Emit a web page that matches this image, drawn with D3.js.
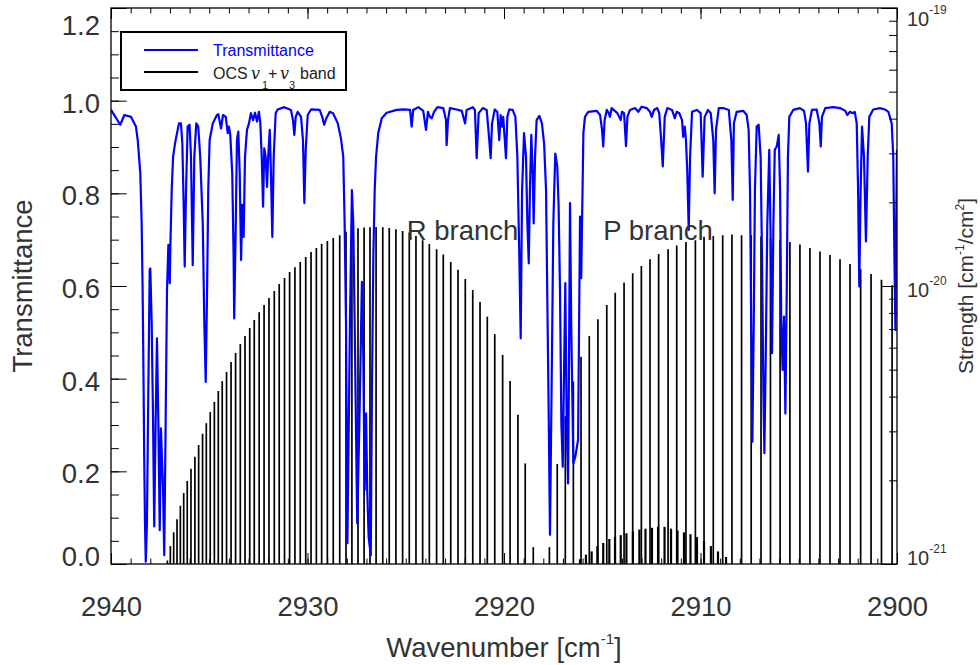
<!DOCTYPE html>
<html>
<head>
<meta charset="utf-8">
<script src="https://cdn.jsdelivr.net/npm/d3@7"></script>
<style>
body{margin:0;background:#fff;}
text{font-family:"Liberation Sans",Arial,Helvetica,sans-serif;fill:#333;}
</style>
</head>
<body>
<div class="box"></div>
<script>
// transmittance spectrum [wavenumber, transmittance]
const transmittance=[
[2940.00,0.980],[2939.53,0.948],[2939.32,0.969],[2938.98,0.965],[2938.73,0.944],[2938.64,0.915],[2938.51,0.844],[2938.44,0.736],[2938.39,0.591],[2938.34,0.376],
[2938.31,0.232],[2938.27,0.088],[2938.23,0.005],[2938.17,0.088],[2938.10,0.376],[2938.03,0.635],[2938.00,0.638],[2937.93,0.520],[2937.86,0.311],[2937.80,0.081],
[2937.73,0.304],[2937.66,0.487],[2937.59,0.304],[2937.52,0.073],[2937.46,0.293],[2937.35,0.160],[2937.29,0.019],[2937.22,0.304],[2937.15,0.591],[2937.08,0.689],
[2937.01,0.606],[2936.98,0.685],[2936.91,0.807],[2936.84,0.879],[2936.74,0.908],[2936.64,0.930],[2936.54,0.951],[2936.44,0.951],[2936.37,0.908],[2936.30,0.771],
[2936.25,0.642],[2936.18,0.807],[2936.10,0.944],[2936.00,0.948],[2935.93,0.879],[2935.84,0.645],[2935.76,0.879],[2935.66,0.951],[2935.56,0.944],[2935.46,0.879],
[2935.33,0.735],[2935.25,0.520],[2935.18,0.393],[2935.11,0.591],[2935.05,0.807],[2934.98,0.915],[2934.82,0.951],[2934.61,0.969],[2934.54,0.971],[2934.40,0.940],
[2934.30,0.969],[2934.16,0.965],[2934.06,0.930],[2934.00,0.944],[2933.93,0.926],[2933.83,0.843],[2933.76,0.663],[2933.73,0.530],[2933.65,0.735],[2933.59,0.915],
[2933.52,0.933],[2933.45,0.843],[2933.38,0.656],[2933.32,0.775],[2933.25,0.706],[2933.18,0.879],[2933.08,0.937],[2932.98,0.951],[2932.88,0.973],[2932.77,0.958],
[2932.67,0.974],[2932.57,0.955],[2932.47,0.976],[2932.40,0.951],[2932.33,0.879],[2932.26,0.771],[2932.20,0.897],[2932.13,0.879],[2932.06,0.814],[2932.00,0.879],
[2931.92,0.937],[2931.86,0.843],[2931.79,0.706],[2931.72,0.879],[2931.62,0.973],[2931.52,0.981],[2931.18,0.986],[2930.84,0.980],[2930.74,0.958],[2930.67,0.926],
[2930.60,0.965],[2930.50,0.976],[2930.33,0.965],[2930.23,0.915],[2930.16,0.779],[2930.09,0.894],[2929.99,0.969],[2929.82,0.981],[2929.38,0.980],[2929.25,0.965],
[2929.15,0.948],[2929.04,0.962],[2928.87,0.976],[2928.70,0.973],[2928.46,0.951],[2928.30,0.919],[2928.18,0.879],[2928.11,0.735],[2928.04,0.520],[2927.97,0.045],
[2927.84,0.520],[2927.74,0.807],[2927.67,0.735],[2927.60,0.520],[2927.47,0.088],[2927.36,0.304],[2927.23,0.609],[2927.16,0.447],[2927.09,0.160],[2927.02,0.325],
[2926.96,0.160],[2926.89,0.059],[2926.78,0.019],[2926.72,0.376],[2926.65,0.663],[2926.58,0.807],[2926.51,0.879],[2926.40,0.930],[2926.22,0.962],[2925.97,0.974],
[2925.46,0.980],[2925.12,0.981],[2924.78,0.980],[2924.70,0.944],[2924.62,0.980],[2924.36,0.986],[2924.11,0.978],[2923.97,0.937],[2923.87,0.976],[2923.77,0.965],
[2923.68,0.962],[2923.56,0.976],[2923.39,0.986],[2923.09,0.984],[2922.95,0.958],[2922.92,0.904],[2922.85,0.958],[2922.75,0.984],[2922.41,0.981],[2922.15,0.978],
[2921.98,0.951],[2921.90,0.980],[2921.59,0.986],[2921.48,0.980],[2921.39,0.876],[2921.29,0.973],[2921.08,0.984],[2920.88,0.980],[2920.75,0.915],[2920.68,0.876],
[2920.61,0.951],[2920.47,0.981],[2920.34,0.976],[2920.24,0.915],[2920.17,0.969],[2920.10,0.944],[2920.04,0.965],[2919.96,0.915],[2919.90,0.876],[2919.83,0.965],
[2919.73,0.981],[2919.56,0.980],[2919.42,0.965],[2919.32,0.879],[2919.22,0.663],[2919.15,0.487],[2919.08,0.807],[2918.98,0.930],[2918.88,0.879],[2918.81,0.735],
[2918.74,0.649],[2918.68,0.807],[2918.61,0.926],[2918.54,0.843],[2918.49,0.735],[2918.42,0.879],[2918.34,0.958],[2918.20,0.967],[2918.07,0.951],[2917.96,0.908],
[2917.86,0.807],[2917.80,0.591],[2917.72,0.304],[2917.66,0.063],[2917.56,0.447],[2917.49,0.735],[2917.39,0.886],[2917.29,0.858],[2917.22,0.771],[2917.15,0.591],
[2917.08,0.304],[2917.01,0.210],[2916.95,0.397],[2916.88,0.606],[2916.81,0.304],[2916.74,0.174],[2916.69,0.447],[2916.64,0.779],[2916.58,0.520],[2916.47,0.217],
[2916.37,0.232],[2916.23,0.268],[2916.13,0.750],[2916.07,0.617],[2915.96,0.930],[2915.88,0.965],[2915.71,0.976],[2915.28,0.978],[2915.11,0.969],[2915.01,0.937],
[2914.95,0.901],[2914.88,0.958],[2914.77,0.980],[2914.67,0.973],[2914.61,0.965],[2914.52,0.984],[2914.23,0.973],[2914.06,0.958],[2914.00,0.976],[2913.89,0.973],
[2913.79,0.902],[2913.72,0.965],[2913.59,0.980],[2913.33,0.984],[2913.17,0.976],[2912.99,0.987],[2912.74,0.984],[2912.57,0.976],[2912.48,0.965],[2912.37,0.980],
[2912.20,0.984],[2912.10,0.973],[2912.00,0.915],[2911.92,0.858],[2911.82,0.965],[2911.69,0.984],[2911.45,0.980],[2911.31,0.962],[2911.21,0.976],[2911.08,0.973],
[2910.94,0.958],[2910.88,0.922],[2910.80,0.944],[2910.74,0.915],[2910.67,0.843],[2910.60,0.721],[2910.53,0.879],[2910.43,0.976],[2910.19,0.980],[2909.99,0.973],
[2909.89,0.836],[2909.79,0.965],[2909.62,0.980],[2909.48,0.973],[2909.35,0.915],[2909.28,0.800],[2909.21,0.937],[2909.07,0.984],[2908.84,0.984],[2908.56,0.980],
[2908.43,0.915],[2908.36,0.786],[2908.30,0.951],[2908.16,0.976],[2907.82,0.978],[2907.65,0.969],[2907.55,0.937],[2907.48,0.807],[2907.42,0.520],[2907.36,0.264],
[2907.29,0.520],[2907.23,0.807],[2907.14,0.944],[2907.04,0.948],[2906.94,0.879],[2906.87,0.663],[2906.80,0.376],[2906.75,0.239],[2906.68,0.447],[2906.60,0.735],
[2906.50,0.894],[2906.43,0.699],[2906.36,0.455],[2906.29,0.735],[2906.22,0.894],[2906.12,0.901],[2906.02,0.926],[2905.95,0.807],[2905.89,0.520],[2905.82,0.419],
[2905.75,0.534],[2905.68,0.325],[2905.61,0.591],[2905.55,0.879],[2905.48,0.965],[2905.28,0.980],[2904.94,0.984],[2904.73,0.978],[2904.63,0.951],[2904.53,0.847],
[2904.46,0.951],[2904.33,0.980],[2904.09,0.981],[2903.95,0.951],[2903.88,0.901],[2903.82,0.965],[2903.65,0.984],[2903.24,0.986],[2902.90,0.984],[2902.63,0.978],
[2902.53,0.969],[2902.39,0.976],[2902.25,0.973],[2902.15,0.976],[2902.05,0.951],[2901.98,0.807],[2901.92,0.599],[2901.85,0.807],[2901.78,0.944],[2901.68,0.879],
[2901.58,0.696],[2901.49,0.879],[2901.41,0.965],[2901.21,0.981],[2900.87,0.984],[2900.61,0.981],[2900.44,0.976],[2900.27,0.951],[2900.19,0.879],[2900.13,0.656],
[2900.08,0.505],[2900.04,0.743],[2900.00,0.894]
];

// OCS v1+v3 band lines [wavenumber, strength cm-1/(molec cm-2)]
const rBranch=[
[2937.13,1.03e-21],[2936.98,1.16e-21],[2936.81,1.30e-21],[2936.64,1.45e-21],[2936.47,1.62e-21],[2936.30,1.80e-21],[2936.12,1.99e-21],[2935.93,2.20e-21],
[2935.73,2.43e-21],[2935.54,2.68e-21],[2935.34,2.94e-21],[2935.15,3.21e-21],[2934.95,3.52e-21],[2934.74,3.83e-21],[2934.54,4.19e-21],[2934.34,4.55e-21],
[2934.12,4.91e-21],[2933.89,5.33e-21],[2933.66,5.74e-21],[2933.42,6.18e-21],[2933.18,6.61e-21],[2932.94,7.06e-21],[2932.71,7.55e-21],[2932.46,8.05e-21],
[2932.21,8.55e-21],[2931.96,9.06e-21],[2931.69,9.59e-21],[2931.44,1.016e-20],[2931.17,1.069e-20],[2930.91,1.122e-20],[2930.64,1.169e-20],[2930.37,1.219e-20],
[2930.09,1.271e-20],[2929.82,1.324e-20],[2929.55,1.371e-20],[2929.28,1.416e-20],[2928.99,1.452e-20],[2928.69,1.489e-20],[2928.36,1.521e-20],[2928.04,1.567e-20],
[2927.74,1.589e-20],[2927.43,1.614e-20],[2927.12,1.622e-20],[2926.82,1.626e-20],[2926.51,1.629e-20],[2926.17,1.626e-20],[2925.84,1.618e-20],[2925.50,1.600e-20],
[2925.16,1.578e-20],[2924.82,1.556e-20],[2924.48,1.514e-20],[2924.14,1.462e-20],[2923.80,1.416e-20],[2923.43,1.355e-20],[2923.09,1.297e-20],[2922.71,1.219e-20],
[2922.34,1.143e-20],[2921.97,1.059e-20],[2921.59,9.68e-21],[2921.22,8.75e-21],[2920.85,7.76e-21],[2920.47,6.71e-21],[2920.07,5.65e-21],[2919.69,4.55e-21],
[2919.29,3.44e-21],[2918.92,2.30e-21],[2918.51,1.15e-21]
];
const pBranch=[
[2917.69,1.15e-21],[2917.29,2.29e-21],[2916.88,3.40e-21],[2916.47,4.53e-21],[2916.08,5.57e-21],[2915.66,6.61e-21],[2915.22,7.59e-21],[2914.77,8.55e-21],
[2914.34,9.46e-21],[2913.89,1.030e-20],[2913.45,1.112e-20],[2913.01,1.180e-20],[2912.57,1.247e-20],[2912.13,1.303e-20],[2911.65,1.355e-20],[2911.21,1.400e-20],
[2910.74,1.439e-20],[2910.26,1.462e-20],[2909.82,1.503e-20],[2909.35,1.514e-20],[2908.87,1.521e-20],[2908.40,1.531e-20],[2907.91,1.521e-20],[2907.42,1.521e-20],
[2906.92,1.507e-20],[2906.44,1.489e-20],[2905.95,1.469e-20],[2905.45,1.439e-20],[2904.94,1.409e-20],[2904.43,1.371e-20],[2903.92,1.330e-20],[2903.41,1.294e-20],
[2902.90,1.247e-20],[2902.39,1.199e-20],[2901.85,1.148e-20],[2901.32,1.104e-20],[2900.79,1.054e-20],[2900.25,1.007e-20]
];
// weak lines under the P branch
const hotBand=[
[2916.13,1.04e-21],[2915.83,1.08e-21],[2915.54,1.11e-21],[2915.25,1.16e-21],[2914.95,1.19e-21],[2914.64,1.23e-21],[2914.35,1.25e-21],[2914.06,1.27e-21],
[2913.77,1.29e-21],[2913.44,1.31e-21],[2913.11,1.33e-21],[2912.80,1.34e-21],[2912.47,1.35e-21],[2912.16,1.36e-21],[2911.83,1.36e-21],[2911.50,1.34e-21],
[2911.17,1.32e-21],[2910.84,1.30e-21],[2910.51,1.28e-21],[2910.18,1.25e-21],[2909.82,1.21e-21],[2909.47,1.16e-21],[2909.11,1.11e-21],[2908.70,1.06e-21]
];

const xTicks=[2940,2930,2920,2910,2900];
const yTicks=[0,0.2,0.4,0.6,0.8,1.0,1.2];
const sTicks=[1e-21,1e-20,1e-19];
const sTickLabels=['-21','-20','-19'];
const branchLabels=[{txt:'R branch',wn:2924.95,t:0.70},{txt:'P branch',wn:2914.95,t:0.70}];

const dims={width:980,height:665,left:111,right:897,top:8,bottom:564};
const svg=d3.select('.box')
    .append('svg')
    .attr('width',dims.width)
    .attr('height',dims.height);

const x=d3.scaleLinear().domain([2940,2900]).range([dims.left,dims.right]);
const yT=d3.scaleLinear().domain([0,1.2]).range([dims.bottom,dims.top]);
const yS=d3.scaleLog().domain([1e-21,1e-19]).range([dims.bottom,dims.top]);

svg.append('clipPath').attr('id','plot')
    .append('rect')
    .attr('x',dims.left).attr('y',dims.top)
    .attr('width',dims.right-dims.left).attr('height',dims.bottom-dims.top);

// sticks
const sticks=svg.append('g').attr('clip-path','url(#plot)');
sticks.selectAll('line.main')
    .data(rBranch.concat(pBranch))
    .enter().append('line')
    .attr('class','main')
    .attr('x1',d=>x(d[0])).attr('x2',d=>x(d[0]))
    .attr('y1',yS(1e-21)).attr('y2',d=>yS(d[1]))
    .attr('stroke','#000').attr('stroke-width',1.7);
sticks.selectAll('line.hot')
    .data(hotBand)
    .enter().append('line')
    .attr('class','hot')
    .attr('x1',d=>x(d[0])).attr('x2',d=>x(d[0]))
    .attr('y1',yS(1e-21)).attr('y2',d=>yS(d[1]))
    .attr('stroke','#000').attr('stroke-width',2.2);

// transmittance
const line=d3.line().x(d=>x(d[0])).y(d=>yT(d[1]));
svg.append('path')
    .datum(transmittance)
    .attr('clip-path','url(#plot)')
    .attr('d',line)
    .attr('fill','none')
    .attr('stroke','#0000ff')
    .attr('stroke-width',2.2)
    .attr('stroke-linejoin','round');

// axes
const bigFont='27.5px';
const clean=g=>{g.select('.domain').remove();g.selectAll('line').attr('stroke','#000');};

svg.append('g').attr('transform',`translate(0,${dims.bottom})`)
    .call(d3.axisBottom(x).tickValues(d3.range(2939,2900,-1)).tickSizeInner(-5.5).tickSizeOuter(0).tickFormat(''))
    .call(clean);
const xAx=svg.append('g').attr('transform',`translate(0,${dims.bottom})`)
    .call(d3.axisBottom(x).tickValues(xTicks).tickSizeInner(-11).tickSizeOuter(0).tickPadding(32).tickFormat(d3.format('d')))
    .call(clean);
xAx.selectAll('text').attr('font-size',bigFont).attr('font-family','"Liberation Sans",Arial,sans-serif').attr('fill','#333');

svg.append('g').attr('transform',`translate(0,${dims.top})`)
    .call(d3.axisTop(x).tickValues(d3.range(2939,2900,-1)).tickSizeInner(-5.5).tickSizeOuter(0).tickFormat(''))
    .call(clean);
svg.append('g').attr('transform',`translate(0,${dims.top})`)
    .call(d3.axisTop(x).tickValues(xTicks).tickSizeInner(-11).tickSizeOuter(0).tickFormat(''))
    .call(clean);

svg.append('g').attr('transform',`translate(${dims.left},0)`)
    .call(d3.axisLeft(yT).tickValues(d3.range(0,1.2001,0.05)).tickSizeInner(-7.9).tickSizeOuter(0).tickFormat(''))
    .call(clean);
const yAx=svg.append('g').attr('transform',`translate(${dims.left},0)`)
    .call(d3.axisLeft(yT).tickValues(yTicks).tickSizeInner(-15.7).tickSizeOuter(0).tickPadding(11).tickFormat(d3.format('.1f')))
    .call(clean);
// end labels are pushed inside the frame
yAx.selectAll('text')
    .attr('font-size',bigFont).attr('font-family','"Liberation Sans",Arial,sans-serif').attr('fill','#333')
    .attr('dy',null)
    .attr('y',d=>Math.min(Math.max(yT(d)+11.5,34.5),565)-yT(d));

const sMinor=[];
[1e-21,1e-20].forEach(b=>{for(let k=2;k<=9;k++) sMinor.push(k*b);});
svg.append('g').attr('transform',`translate(${dims.right},0)`)
    .call(d3.axisRight(yS).tickValues(sMinor).tickSizeInner(-7.9).tickSizeOuter(0).tickFormat(''))
    .call(clean);
svg.append('g').attr('transform',`translate(${dims.right},0)`)
    .call(d3.axisRight(yS).tickValues(sTicks).tickSizeInner(-15.7).tickSizeOuter(0).tickFormat(''))
    .call(clean);
const sLab=svg.append('g').selectAll('text')
    .data(sTicks)
    .enter().append('text')
    .attr('x',907)
    .attr('y',d=>Math.min(Math.max(yS(d)+10.7,26),565))
    .attr('font-size','20px');
sLab.append('tspan').text('10');
sLab.append('tspan').attr('font-size','12px').attr('dy',-12).text((d,i)=>sTickLabels[i]);

// frame
svg.append('rect')
    .attr('x',dims.left).attr('y',dims.top)
    .attr('width',dims.right-dims.left).attr('height',dims.bottom-dims.top)
    .attr('fill','none').attr('stroke','#000').attr('stroke-width',1.3);

// titles
const xt=svg.append('text')
    .attr('x',(dims.left+dims.right)/2).attr('y',657)
    .attr('text-anchor','middle').attr('font-size',bigFont);
xt.append('tspan').text('Wavenumber [cm');
xt.append('tspan').attr('font-size','15px').attr('dy',-13).text('-1');
xt.append('tspan').attr('dy',13).text(']');

svg.append('text')
    .attr('transform',`translate(32,${(dims.top+dims.bottom)/2}) rotate(-90)`)
    .attr('text-anchor','middle').attr('font-size',bigFont)
    .text('Transmittance');

const st=svg.append('text')
    .attr('transform',`translate(973,${(dims.top+dims.bottom)/2}) rotate(-90)`)
    .attr('text-anchor','middle').attr('font-size','21px');
st.append('tspan').text('Strength [cm');
st.append('tspan').attr('font-size','12px').attr('dy',-9).text('-1');
st.append('tspan').attr('dy',9).text('/cm');
st.append('tspan').attr('font-size','12px').attr('dy',-9).text('2');
st.append('tspan').attr('dy',9).text(']');

svg.append('g').selectAll('text')
    .data(branchLabels)
    .enter().append('text')
    .attr('x',d=>x(d.wn)).attr('y',d=>yT(d.t))
    .attr('font-size',bigFont)
    .text(d=>d.txt);

// legend
const leg=svg.append('g');
leg.append('rect').attr('x',121).attr('y',32).attr('width',225).attr('height',58)
    .attr('fill','#fff').attr('stroke','#000').attr('stroke-width',2);
leg.append('line').attr('x1',144).attr('x2',198).attr('y1',50).attr('y2',50)
    .attr('stroke','#0000ff').attr('stroke-width',2);
leg.append('line').attr('x1',144).attr('x2',198).attr('y1',72).attr('y2',72)
    .attr('stroke','#000').attr('stroke-width',2);
leg.append('text').attr('x',213).attr('y',55.5).attr('font-size','16px')
    .style('fill','#0000ff').text('Transmittance');
const l2=leg.append('text').attr('y',78.5).attr('font-size','16px').style('fill','#222');
l2.append('tspan').attr('x',213).text('OCS');
l2.append('tspan').attr('x',251).attr('font-family','"DejaVu Serif","Liberation Serif",serif').attr('font-style','italic').text('v');
l2.append('tspan').attr('x',262).attr('dy',10).attr('font-size','11px').text('1');
l2.append('tspan').attr('x',268).attr('dy',-10).text('+');
l2.append('tspan').attr('x',280).attr('font-family','"DejaVu Serif","Liberation Serif",serif').attr('font-style','italic').text('v');
l2.append('tspan').attr('x',289).attr('dy',10).attr('font-size','11px').text('3');
l2.append('tspan').attr('x',300).attr('dy',-10).text('band');
</script>
</body>
</html>
